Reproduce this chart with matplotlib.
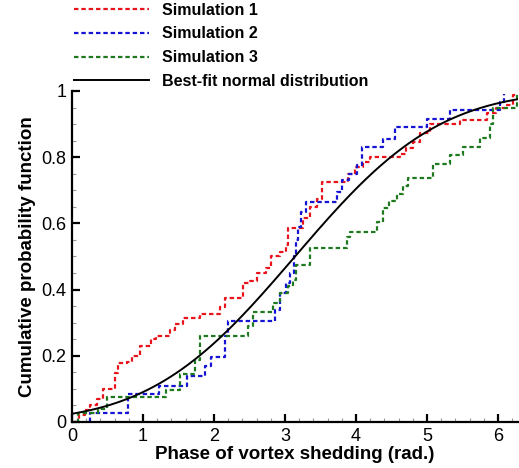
import math

import matplotlib
matplotlib.use("agg")
import matplotlib.pyplot as plt
import numpy as np
from matplotlib.ticker import FormatStrFormatter, MultipleLocator

plt.rcParams["font.family"] = ["Liberation Sans", "DejaVu Sans"]

# empirical CDF steps: phase where the step occurs, level after the step
sim1_start, sim1_end = 0.04, 2 * np.pi
sim1_x = [0.10, 0.18, 0.25, 0.35, 0.44, 0.61, 0.65, 0.77, 0.84, 0.96, 1.12, 1.19,
          1.38, 1.45, 1.57, 1.80, 2.08, 2.15, 2.41, 2.51, 2.60, 2.74, 2.81, 2.93,
          3.02, 3.05, 3.26, 3.35, 3.45, 3.52, 3.89, 3.99, 4.10, 4.20, 4.62, 4.71,
          4.80, 4.90, 5.04, 5.46, 5.84, 5.98, 6.12, 6.21]
sim1_y = [0.020, 0.036, 0.050, 0.070, 0.100, 0.147, 0.177, 0.180, 0.200, 0.230, 0.250, 0.260,
          0.278, 0.295, 0.313, 0.326, 0.348, 0.374, 0.420, 0.427, 0.450, 0.464, 0.500, 0.514,
          0.535, 0.585, 0.615, 0.650, 0.673, 0.726, 0.750, 0.770, 0.785, 0.800, 0.810, 0.827,
          0.847, 0.872, 0.900, 0.912, 0.933, 0.948, 0.958, 0.988]

sim2_start, sim2_end = 0.25, 6.08
sim2_x = [0.25, 0.79, 1.22, 1.62, 1.88, 1.96, 2.15, 2.20, 2.86, 2.93, 3.02, 3.07, 3.13,
          3.16, 3.19, 3.23, 3.30, 3.73, 3.80, 3.90, 4.01, 4.08, 4.38, 4.55, 5.00, 5.32,
          6.03, 6.08]
sim2_y = [0.028, 0.085, 0.110, 0.140, 0.170, 0.196, 0.260, 0.306, 0.338, 0.390, 0.420, 0.450, 0.500,
          0.550, 0.590, 0.635, 0.665, 0.695, 0.730, 0.750, 0.776, 0.830, 0.856, 0.890, 0.915, 0.943,
          0.968, 0.990]

sim3_start, sim3_end = 0.07, 2 * np.pi
sim3_x = [0.09, 0.37, 0.49, 1.33, 1.52, 1.73, 1.80, 2.48, 2.55, 2.83, 2.93, 3.04, 3.12,
          3.16, 3.35, 3.87, 3.92, 4.29, 4.38, 4.47, 4.58, 4.67, 4.74, 5.09, 5.32, 5.51,
          5.75, 5.89, 5.93, 6.27]
sim3_y = [0.026, 0.040, 0.075, 0.097, 0.145, 0.187, 0.260, 0.290, 0.333, 0.360, 0.390, 0.410, 0.430,
          0.474, 0.525, 0.560, 0.575, 0.605, 0.645, 0.667, 0.690, 0.714, 0.736, 0.780, 0.807, 0.830,
          0.857, 0.900, 0.950, 0.990]

fit_mean = np.pi
fit_std = 1.6

labels = ["Simulation 1", "Simulation 2", "Simulation 3", "Best-fit normal distribution"]
colors = ["#e8141c", "#1414d2", "#1f7a1f"]


def step_path(start, end, xs, ys):
    x = np.concatenate([[start], xs, [end]])
    y = np.concatenate([[0.0], ys, [ys[-1]]])
    return x, y


def normal_cdf(x, mu, sigma):
    return 0.5 * (1 + np.array([math.erf((v - mu) / (sigma * math.sqrt(2))) for v in x]))


fig = plt.figure(figsize=(5.19, 4.68), dpi=100)
ax = fig.add_axes([0.1387, 0.0983, 0.8594, 0.7073])

series = [
    (sim1_start, sim1_end, sim1_x, sim1_y),
    (sim2_start, sim2_end, sim2_x, sim2_y),
    (sim3_start, sim3_end, sim3_x, sim3_y),
]
for (start, end, xs, ys), color, label in zip(series, colors, labels):
    x, y = step_path(start, end, xs, ys)
    ax.plot(x, y, drawstyle="steps-post", color=color, lw=1.6,
            ls=(0, (2.0, 1.3)), label=label)

xfit = np.linspace(0, 2 * np.pi, 300)
ax.plot(xfit, normal_cdf(xfit, fit_mean, fit_std), color="black", lw=1.4, label=labels[3])

ax.set_xlim(0, 2 * np.pi)
ax.set_ylim(0, 1)
ax.xaxis.set_major_locator(MultipleLocator(1))
ax.xaxis.set_minor_locator(MultipleLocator(0.2))
ax.yaxis.set_major_locator(MultipleLocator(0.2))
ax.yaxis.set_minor_locator(MultipleLocator(0.05))
ax.yaxis.set_major_formatter(FormatStrFormatter("%g"))

ax.spines["top"].set_visible(False)
ax.spines["right"].set_visible(False)
for side in ("left", "bottom"):
    ax.spines[side].set_linewidth(1.6)

ax.tick_params(which="major", direction="in", length=6, width=1.6, labelsize=13, pad=4)
ax.tick_params(which="minor", direction="in", length=3, width=0.8, color="#999999")

ax.set_xlabel("Phase of vortex shedding (rad.)", fontsize=13.5, fontweight="bold", labelpad=1)
ax.set_ylabel("Cumulative probability function", fontsize=13.5, fontweight="bold", labelpad=4)

fig.legend(loc="upper left", bbox_to_anchor=(0.1245, 1.015), frameon=False,
           prop={"size": 11.5, "weight": "bold"}, handlelength=4.7,
           handletextpad=0.78, labelspacing=0.55, borderpad=0.1)

fig.savefig("out.png", dpi=100)
